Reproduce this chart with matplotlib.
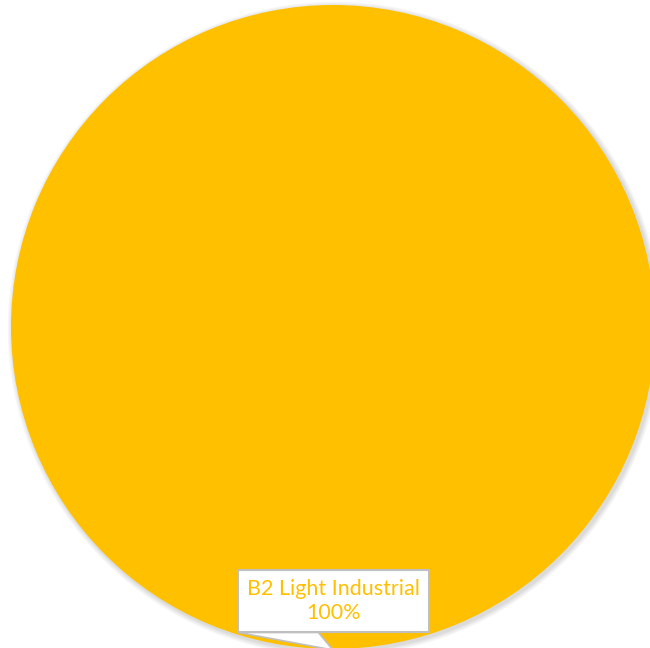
import numpy as np
import matplotlib.pyplot as plt
from matplotlib.patches import Circle, Polygon
from matplotlib.transforms import IdentityTransform

# Дані
categories = ['B2 Light Industrial']
values = [100]
colors = ['#FFC000']

fig = plt.figure(figsize=(6.5, 6.48), dpi=100)
ax = fig.add_axes([0, 0, 1, 1])

# м'яка тінь під кругом
for i, a in enumerate([0.05, 0.05, 0.06, 0.07]):
    d = 0.004 * (4 - i)
    ax.add_patch(Circle((0.006, -0.006), 1 + d, color='#606060', alpha=a, lw=0, zorder=0))

wedges, _ = ax.pie(values, colors=colors, startangle=90, counterclock=False,
                   radius=1, wedgeprops=dict(linewidth=0))
for w in wedges:
    w.set_zorder(2)

# центр кола і радіус в пікселях
cx, cy, r = 333, 327, 322
ax.set_xlim(-cx / r, (650 - cx) / r)
ax.set_ylim(-(648 - cy) / r, cy / r)
ax.set_aspect('equal')
ax.axis('off')

# підпис-виноска
total = sum(values)
for w, name, v in zip(wedges, categories, values):
    ang = np.deg2rad((w.theta1 + w.theta2) / 2)
    tip = (np.cos(ang), np.sin(ang))
    txt = ax.text(0.002, -0.851, f'{name}\n{v / total * 100:.0f}%',
                  ha='center', va='center', fontsize=15.5, family='Lato',
                  color='#FFC000', linespacing=1.3, zorder=5,
                  bbox=dict(boxstyle='square,pad=0.42', fc='white', ec='#BFBFBF', lw=1.5))
    fig.canvas.draw()
    bb = txt.get_bbox_patch().get_window_extent()
    tx, ty = ax.transData.transform(tip)
    # хвостик виноски від нижнього краю рамки до краю сектора
    ax.add_patch(Polygon([(bb.x0, bb.y0), (bb.x0 + 0.42 * bb.width, bb.y0), (tx, ty - 1)],
                         closed=True, fc='white', ec='#BFBFBF', lw=1.2,
                         transform=IdentityTransform(), zorder=4, clip_on=False))

fig.savefig('out.png', dpi=100)
